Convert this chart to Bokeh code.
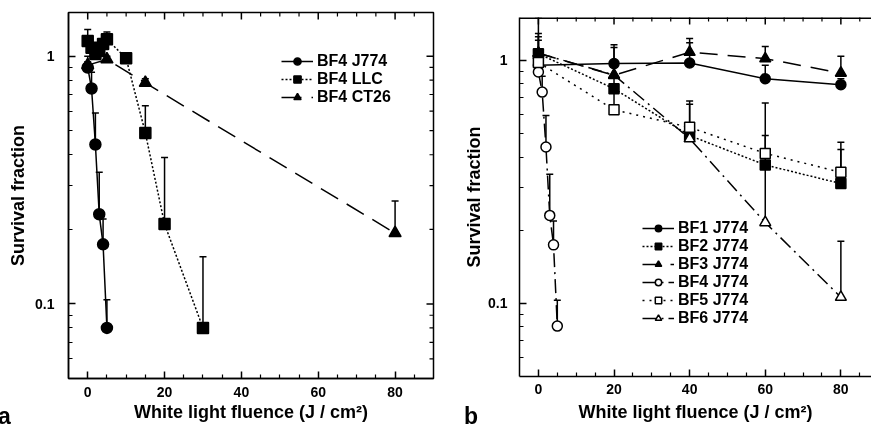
import math
from bokeh.plotting import figure
from bokeh.models import (Range1d, FixedTicker, Legend, LegendItem, Div, Span,
                          Whisker, TeeHead, ColumnDataSource, CustomJSTickFormatter)
from bokeh.embed import file_html
from bokeh.resources import INLINE

# ---------------- data: panel a ----------------
fluence_a_j774 = [0, 1, 2, 3, 4, 5]
a_bf4_j774 = [0.90, 0.74, 0.44, 0.23, 0.174, 0.080]
a_bf4_j774_up = [1.00, 0.86, 0.59, 0.34, 0.22, 0.104]

fluence_a_llc = [0, 1, 2, 3, 4, 5, 10, 15, 20, 30]
a_bf4_llc = [1.15, 1.08, 1.02, 1.05, 1.12, 1.17, 0.98, 0.49, 0.21, 0.080]
a_bf4_llc_up = [1.28, 1.12, 1.06, 1.09, 1.16, 1.25, 0.98, 0.63, 0.39, 0.155]

fluence_a_ct26 = [0, 5, 15, 80]
a_bf4_ct26 = [0.92, 0.97, 0.78, 0.193]
a_bf4_ct26_up = [0.95, 1.00, 0.81, 0.26]

# ---------------- data: panel b ----------------
fluence_b = [0, 20, 40, 60, 80]
b_bf1 = [0.954, 0.969, 0.975, 0.84, 0.794]
b_bf1_up = [1.21, 1.16, 1.18, 0.954, 0.84]
b_bf2 = [1.065, 0.764, 0.49, 0.371, 0.311]
b_bf2_up = [1.29, 0.95, 0.68, 0.667, 0.43]
b_bf3 = [1.07, 0.867, 1.08, 1.016, 0.886]
b_bf3_up = [1.25, 1.13, 1.23, 1.14, 1.04]
fluence_b_bf4 = [0, 1, 2, 3, 4, 5]
b_bf4 = [0.895, 0.74, 0.44, 0.23, 0.174, 0.0806]
b_bf4_up = [1.00, 0.86, 0.593, 0.34, 0.218, 0.103]
b_bf5 = [0.98, 0.626, 0.53, 0.414, 0.346]
b_bf5_up = [1.10, 0.76, 0.66, 0.49, 0.46]
b_bf6 = [1.07, 0.87, 0.476, 0.215, 0.106]
b_bf6_up = [1.49, 0.95, 0.55, 0.37, 0.18]

x_major = [0, 20, 40, 60, 80]
x_minor = [5, 10, 15, 25, 30, 35, 45, 50, 55, 65, 70, 75, 85]
y_major = [0.1, 1]
y_minor = [0.06, 0.07, 0.08, 0.09, 0.2, 0.3, 0.4, 0.5, 0.6, 0.7, 0.8, 0.9]
y_label_text = "Survival fraction"
x_label_text = "White light fluence (J / cm\u00b2)"
panel_letters = ["a", "b"]

X_START = -5
X_END_A = 90
X_END_B = 88.1
Y_START = 0.05
Y_END = 1.5

FONT = "Liberation Sans"


def style_axis(ax):
    ax.major_tick_in = 7
    ax.major_tick_out = 0
    ax.minor_tick_in = 4
    ax.minor_tick_out = 0
    ax.axis_line_width = 1.5
    ax.major_tick_line_width = 1.5
    ax.minor_tick_line_width = 1.2
    ax.axis_line_color = "black"
    ax.major_tick_line_color = "black"
    ax.minor_tick_line_color = "black"
    ax.major_label_text_font = FONT
    ax.major_label_text_font_style = "bold"
    ax.major_label_text_color = "black"
    ax.major_label_text_font_size = "14px"
    ax.major_label_text_line_height = 1.0
    ax.axis_label_text_font = FONT
    ax.axis_label_text_font_style = "bold"
    ax.axis_label_text_color = "black"
    ax.axis_label_text_font_size = "18px"
    ax.axis_label_text_line_height = 1.0


def make_fig(width, height, left_px, x_end, borders, outline, stand):
    p = figure(width=width, height=height, y_axis_type="log",
               x_range=Range1d(X_START, x_end), y_range=Range1d(Y_START, Y_END),
               output_backend="svg", toolbar_location=None,
               min_border_left=borders[0], min_border_right=borders[1],
               min_border_top=borders[2], min_border_bottom=borders[3],
               styles={"position": "fixed", "left": f"{left_px}px", "top": "0px"})
    p.grid.visible = False
    p.background_fill_color = "white"
    p.border_fill_color = "white"
    if outline:
        p.outline_line_color = "black"
        p.outline_line_width = 1.5
    else:
        p.outline_line_color = None
        p.add_layout(Span(location=Y_END, dimension="width", line_color="black", line_width=3))
    p.xaxis.ticker = FixedTicker(ticks=x_major, minor_ticks=x_minor)
    p.yaxis.ticker = FixedTicker(ticks=y_major, minor_ticks=y_minor)
    p.yaxis.formatter = CustomJSTickFormatter(code="return tick.toString();")
    for ax in p.xaxis + p.yaxis:
        style_axis(ax)
    p.yaxis.axis_label = y_label_text
    p.xaxis.axis_label = x_label_text
    p.xaxis.major_label_standoff = stand[0]
    p.xaxis.axis_label_standoff = stand[1]
    p.yaxis.major_label_standoff = stand[2]
    p.yaxis.axis_label_standoff = stand[3]
    # mirrored ticks on the top edge (inner half only is visible: glyphs are clipped to the frame)
    p.scatter(x=x_major, y=[Y_END] * len(x_major), marker="dash", size=14,
              angle=math.pi / 2, line_color="black", line_width=1.5)
    p.scatter(x=x_minor, y=[Y_END] * len(x_minor), marker="dash", size=8,
              angle=math.pi / 2, line_color="black", line_width=1.2)
    return p


def series(p, x, y, up, marker, dash, filled, size):
    src = ColumnDataSource(dict(x=x, y=y, up=up))
    ln = p.line("x", "y", source=src, line_color="black", line_width=1.5, line_dash=dash)
    w = Whisker(source=src, base="x", upper="up", lower="y", dimension="height",
                line_color="black", line_width=1.5,
                upper_head=TeeHead(size=7, line_color="black", line_width=1.5),
                lower_head=None)
    p.add_layout(w)
    sc = p.scatter("x", "y", source=src, marker=marker, size=size,
                   fill_color="black" if filled else "white",
                   line_color="black", line_width=1.5)
    return [ln, sc]


def style_legend(lg, row_h, spacing):
    lg.label_text_font = FONT
    lg.label_text_font_style = "bold"
    lg.label_text_font_size = "16px"
    lg.label_text_line_height = 1.0
    lg.label_text_color = "black"
    lg.glyph_width = 32
    lg.glyph_height = row_h
    lg.label_height = row_h
    lg.spacing = spacing
    lg.padding = 2
    lg.margin = 0
    lg.label_standoff = 4
    lg.border_line_color = None
    lg.background_fill_alpha = 0


def letter(text, left_px, top_px):
    return Div(text=text, width=14, height=23,
               styles={"position": "fixed", "left": f"{left_px}px", "top": f"{top_px}px",
                       "font-family": FONT, "font-weight": "bold", "font-size": "23px",
                       "line-height": "23px", "color": "black", "margin": "0"})


# ---------------- panel a ----------------
pa = make_fig(440, 424, 0, X_END_A, (68, 7, 12, 46), True, (8, 2, 14, 4))
pa.scatter(x=[X_END_A] * len(y_major), y=y_major, marker="dash", size=14,
           line_color="black", line_width=1.5)
pa.scatter(x=[X_END_A] * len(y_minor), y=y_minor, marker="dash", size=8,
           line_color="black", line_width=1.2)

r_j774 = series(pa, fluence_a_j774, a_bf4_j774, a_bf4_j774_up, "circle", "solid", True, 11)
r_llc = series(pa, fluence_a_llc, a_bf4_llc, a_bf4_llc_up, "square", "2 2", True, 11)
r_ct26 = series(pa, fluence_a_ct26, a_bf4_ct26, a_bf4_ct26_up, "triangle", "20 10", True, 12)

lega = Legend(items=[LegendItem(label="BF4 J774", renderers=r_j774),
                     LegendItem(label="BF4 LLC", renderers=r_llc),
                     LegendItem(label="BF4 CT26", renderers=r_ct26)],
              location=(213, 272))
style_legend(lega, 18, -1)
pa.add_layout(lega)

# ---------------- panel b ----------------
pb = make_fig(431, 424, 440, X_END_B, (79, 0, 17, 48), False, (7, 5, 12, 1))

r1 = series(pb, fluence_b, b_bf1, b_bf1_up, "circle", "solid", True, 10)
r2 = series(pb, fluence_b, b_bf2, b_bf2_up, "square", "2 2", True, 10)
r6 = series(pb, fluence_b, b_bf6, b_bf6_up, "triangle", "14 5 2 5", False, 11)
r3 = series(pb, fluence_b, b_bf3, b_bf3_up, "triangle", "18 10", True, 11)
r4 = series(pb, fluence_b_bf4, b_bf4, b_bf4_up, "circle", "14 5 2 5", False, 10)
r5 = series(pb, fluence_b, b_bf5, b_bf5_up, "square", "2 5", False, 10)

legb = Legend(items=[LegendItem(label="BF1 J774", renderers=r1),
                     LegendItem(label="BF2 J774", renderers=r2),
                     LegendItem(label="BF3 J774", renderers=r3),
                     LegendItem(label="BF4 J774", renderers=r4),
                     LegendItem(label="BF5 J774", renderers=r5),
                     LegendItem(label="BF6 J774", renderers=r6)],
              location=(123, 49))
style_legend(legb, 16, -2)
pb.add_layout(legb)

roots = [pa, pb, letter(panel_letters[0], -2, 405), letter(panel_letters[1], 464, 405)]
open("out.html", "w").write(file_html(roots, INLINE))
